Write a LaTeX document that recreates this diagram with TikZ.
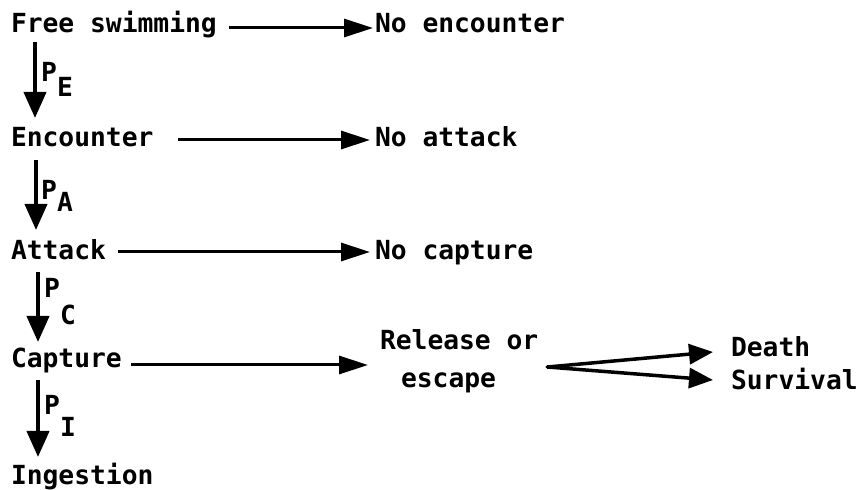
\documentclass[tikz,border=0pt]{standalone}
\usepackage{fontspec}
\setmainfont{DejaVu Sans Mono}
\usetikzlibrary{arrows.meta}
\newcommand{\plab}[2]{P\raisebox{-#2pt}{#1}}
\begin{document}
\begin{tikzpicture}[x=1pt,y=1pt,
  txt/.style={anchor=base west,inner sep=0pt,outer sep=0pt,text height=20pt,text depth=0pt,
    font=\fontsize{26.3}{32}\selectfont\bfseries},
  lab/.style={anchor=base west,inner sep=0pt,font=\fontsize{26.3}{32}\selectfont\bfseries},
  harr/.style={line width=3pt,-{Triangle[length=29pt,width=18pt]}},
  varr/.style={line width=4pt,-{Triangle[length=26pt,width=22pt]}},
  barr/.style={line width=3.5pt,line cap=round,-{Triangle[length=24pt,width=20pt]}}]
\useasboundingbox (0,0) rectangle (860,490);
\node[txt] (fs) at (11,457) {Free swimming};
\node[txt] (ne) at (375,457) {No encounter};
\node[txt] (enc) at (11,343) {Encounter};
\node[txt] (na) at (375,343) {No attack};
\node[txt] (att) at (11,230) {Attack};
\node[txt] (nc) at (375,230) {No capture};
\node[txt] (cap) at (11,122) {Capture};
\node[txt] (relA) at (380,140) {Release or};
\node[txt] (relB) at (401,102) {escape};
\node[txt] (death) at (731,133) {Death};
\node[txt] (surv) at (731,100) {Survival};
\node[txt] (ing) at (11,5) {Ingestion};
\node[lab] (pE) at (41,408) {\plab{E}{15}};
\node[lab] (pA) at (41,290) {\plab{A}{12}};
\node[lab] (pC) at (44,192) {\plab{C}{27}};
\node[lab] (pI) at (44,75) {\plab{I}{22}};
\draw[harr] ([xshift=12pt,yshift=-5pt]fs.east) -- ([xshift=-2pt,yshift=-5pt]ne.west);
\draw[harr] ([xshift=24.5pt,yshift=-3pt]enc.east) -- ([xshift=-5pt,yshift=-3pt]na.west);
\draw[harr] ([xshift=12pt,yshift=-2pt]att.east) -- ([xshift=-5pt,yshift=-2pt]nc.west);
\draw[harr] ([xshift=9pt,yshift=-7pt]cap.east) -- ([xshift=-12pt,yshift=-25pt]relA.west);
\draw[varr] ([shift={(24pt,-9pt)}]fs.south west) -- ([shift={(24pt,9pt)}]enc.north west);
\draw[varr] ([shift={(25pt,-13pt)}]enc.south west) -- ([shift={(25pt,10pt)}]att.north west);
\draw[varr] ([shift={(27pt,-12pt)}]att.south west) -- ([shift={(27pt,6pt)}]cap.north west);
\draw[varr] ([shift={(27pt,-12pt)}]cap.south west) -- ([shift={(27pt,8pt)}]ing.north west);
\coordinate (br) at ([shift={(9pt,-17pt)}]relA.south east);
\draw[barr] (br) -- ([shift={(-18pt,-5pt)}]death.west);
\draw[barr] (br) -- ([shift={(-18pt,0pt)}]surv.west);
\end{tikzpicture}
\end{document}
